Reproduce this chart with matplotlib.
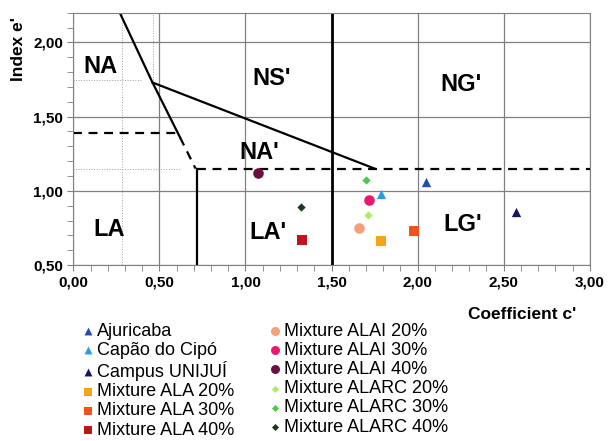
import matplotlib
matplotlib.use("Agg")
from matplotlib import pyplot as plt
from matplotlib.ticker import MultipleLocator, FuncFormatter

plt.rcParams["font.family"] = ["Liberation Sans", "DejaVu Sans"]

# points (coefficient c', index e')
names = [
    "Ajuricaba", "Capão do Cipó", "Campus UNIJUÍ",
    "Mixture ALA 20%", "Mixture ALA 30%", "Mixture ALA 40%",
    "Mixture ALAI 20%", "Mixture ALAI 30%", "Mixture ALAI 40%",
    "Mixture ALARC 20%", "Mixture ALARC 30%", "Mixture ALARC 40%",
]
c_vals = [2.05, 1.79, 2.57, 1.79, 1.98, 1.33, 1.66, 1.72, 1.07, 1.71, 1.70, 1.32]
e_vals = [1.06, 0.98, 0.86, 0.66, 0.73, 0.67, 0.75, 0.94, 1.12, 0.84, 1.07, 0.89]
colors = [
    "#1f4fb0", "#2e9be0", "#16175e",
    "#f5a21e", "#f4501c", "#c0141a",
    "#f4a07a", "#e8186e", "#6a1040",
    "#a6f25e", "#4cc84c", "#1c3a1c",
]
markers = ["^", "^", "^", "s", "s", "s", "o", "o", "o", "D", "D", "D"]
sizes = [45, 45, 45, 55, 55, 55, 58, 58, 58, 18, 18, 18]

# classification region labels
region_labels = ["NA", "NS'", "NG'", "NA'", "LA", "LA'", "LG'"]
region_x = [0.16, 1.15, 2.25, 1.08, 0.21, 1.13, 2.26]
region_y = [1.84, 1.76, 1.72, 1.26, 0.74, 0.72, 0.77]

fig = plt.figure(figsize=(6.08, 4.41), dpi=100)
ax = fig.add_axes([0.1206, 0.399, 0.8494, 0.572])

ax.set_xlim(0, 3.0)
ax.set_ylim(0.5, 2.2)
ax.xaxis.set_major_locator(MultipleLocator(0.5))
ax.xaxis.set_minor_locator(MultipleLocator(0.1))
ax.yaxis.set_major_locator(MultipleLocator(0.5))
ax.yaxis.set_minor_locator(MultipleLocator(0.1))
fmt = FuncFormatter(lambda v, p: f"{v:.2f}".replace(".", ","))
ax.xaxis.set_major_formatter(fmt)
ax.yaxis.set_major_formatter(fmt)
ax.grid(True, which="major", color="#808080", linewidth=0.9)
ax.tick_params(which="both", color="#808080", labelsize=11)
ax.tick_params(which="major", length=4)
ax.tick_params(which="minor", length=4)
for lab in ax.get_xticklabels() + ax.get_yticklabels():
    lab.set_fontweight("bold")
for s in ax.spines.values():
    s.set_color("#808080")

# thin dotted helper lines
dot = dict(color="#a0a0a0", linewidth=0.7, linestyle=":")
ax.plot([0.28, 0.28], [0.5, 2.2], **dot)
ax.plot([0.46, 0.46], [1.75, 2.2], **dot)
ax.plot([0, 0.4], [1.75, 1.75], **dot)
ax.plot([0, 0.62], [1.15, 1.15], **dot)

# chart boundaries
k = dict(color="black", linewidth=1.6)
ax.plot([0.27, 0.46, 0.62], [2.2, 1.73, 1.36], **k)
ax.plot([0.62, 0.71], [1.36, 1.15], linestyle=(0, (4, 3)), **k)
ax.plot([0.46, 1.75], [1.73, 1.15], **k)
ax.plot([0.72, 0.72], [0.5, 1.15], **k)
ax.plot([1.5, 1.5], [0.5, 2.2], color="black", linewidth=2.0)
ax.plot([0, 0.6], [1.39, 1.39], linestyle=(0, (4, 3)), **k)
ax.plot([0.72, 3.0], [1.15, 1.15], linestyle=(0, (4, 3)), **k)

for lbl, x, y in zip(region_labels, region_x, region_y):
    ax.text(x, y, lbl, fontsize=17, fontweight="bold", ha="center", va="center")

for n, x, y, c, m, s in zip(names, c_vals, e_vals, colors, markers, sizes):
    ax.scatter(x, y, s=s, c=c, marker=m, label=n, zorder=5, linewidths=0)

fig.text(0.030, 0.889, "Index e'", fontsize=12.5, fontweight="bold",
         rotation=90, ha="center", va="center")
fig.text(0.859, 0.286, "Coefficient c'", fontsize=12.5, fontweight="bold",
         ha="center", va="center")

fig.legend(loc="upper left", bbox_to_anchor=(0.135, 0.268), ncol=2,
           frameon=False, fontsize=13, handletextpad=0.15,
           labelspacing=0.12, columnspacing=1.9, handlelength=0.7,
           borderaxespad=0, borderpad=0, markerscale=0.85)

fig.savefig("out.png", dpi=100)
